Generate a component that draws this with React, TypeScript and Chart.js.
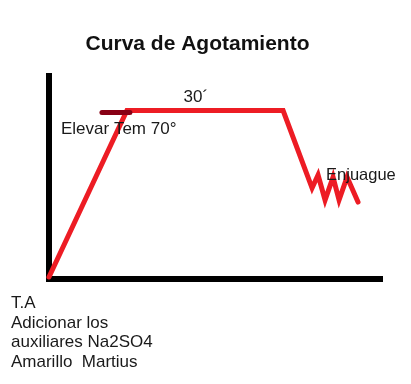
import React, { useEffect, useRef } from "react";
import { Chart, registerables } from "chart.js";

Chart.register(...registerables);

// Main curve (time-ish units on x, temperature-ish units on y, both 0-100)
const curveX = [0, 23.4, 70.3, 79.0, 80.8, 82.9, 85.3, 87.1, 89.5, 92.8];
const curveY = [1, 83, 83, 44.8, 51.2, 38.9, 50.2, 38.9, 50.2, 37.9];

// Short dark-red mark at the start of the plateau
const markX = [15.9, 24.3];
const markY = [82, 82];

const titleText = "Curva de Agotamiento";
const plateauLabel = "30´";
const rampLabel = "Elevar Tem 70°";
const rinseLabel = "Enjuague";
const footLines = ["T.A", "Adicionar los", "auxiliares Na2SO4", "Amarillo  Martius"];

const FONT = "'Liberation Sans', Arial, sans-serif";

const textPlugin = {
  id: "textNotes",
  afterDatasetsDraw(chart: any) {
    const { ctx, scales, chartArea } = chart;
    const xs = scales.x;
    const ys = scales.y;
    ctx.save();
    ctx.fillStyle = "#1a1a1a";
    ctx.textBaseline = "alphabetic";

    ctx.font = `17px ${FONT}`;
    ctx.textAlign = "center";
    ctx.fillText(plateauLabel, xs.getPixelForValue(44.1), ys.getPixelForValue(87.2));

    ctx.textAlign = "left";
    ctx.fillText(rampLabel, xs.getPixelForValue(3.6), ys.getPixelForValue(71.4));

    ctx.font = `16.5px ${FONT}`;
    ctx.fillText(rinseLabel, xs.getPixelForValue(83.2), ys.getPixelForValue(48.8));

    ctx.font = `17px ${FONT}`;
    const base = chartArea.bottom + 29;
    footLines.forEach((t, i) => {
      ctx.fillText(t, 11, base + i * 19.7);
    });
    ctx.restore();
  },
};

export default function App() {
  const ref = useRef<HTMLCanvasElement | null>(null);

  useEffect(() => {
    if (!ref.current) return;
    const chart = new Chart(ref.current, {
      type: "line",
      data: {
        datasets: [
          {
            data: markX.map((x, i) => ({ x, y: markY[i] })),
            borderColor: "#880015",
            borderWidth: 5,
            borderCapStyle: "round",
            pointRadius: 0,
            tension: 0,
            clip: false as any,
            order: 0,
          },
          {
            data: curveX.map((x, i) => ({ x, y: curveY[i] })),
            borderColor: "#ED1C24",
            borderWidth: 5,
            borderCapStyle: "round",
            pointRadius: 0,
            tension: 0,
            clip: false as any,
            order: 1,
          },
        ],
      },
      options: {
        responsive: false,
        animation: false,
        devicePixelRatio: 1,
        layout: { padding: { left: 13, right: 29, top: 0, bottom: 105 } },
        plugins: {
          legend: { display: false },
          tooltip: { enabled: false },
          title: {
            display: true,
            text: titleText,
            color: "#111",
            font: { family: FONT, size: 21, weight: "bold" },
            padding: { top: 32, bottom: 18.8 },
          },
        },
        scales: {
          x: {
            type: "linear",
            min: 0,
            max: 100,
            ticks: { display: false },
            grid: { display: false, drawTicks: false },
            border: { display: true, color: "#000", width: 6 },
            afterFit: (s: any) => {
              s.height = 0;
            },
          },
          y: {
            type: "linear",
            min: 0,
            max: 100,
            ticks: { display: false },
            grid: { display: false, drawTicks: false },
            border: { display: true, color: "#000", width: 6 },
            afterFit: (s: any) => {
              s.width = 36;
            },
          },
        },
      },
      plugins: [textPlugin],
    });
    return () => chart.destroy();
  }, []);

  return (
    <div style={{ position: "fixed", left: 0, top: 0, width: 411, height: 384, background: "#fff" }}>
      <canvas ref={ref} width={411} height={384} style={{ width: 411, height: 384 }} />
    </div>
  );
}
